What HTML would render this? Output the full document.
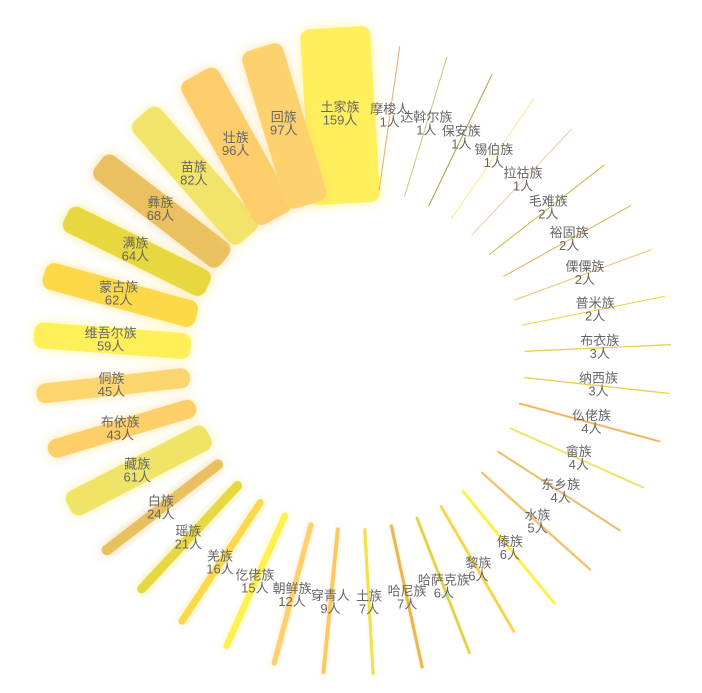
<!DOCTYPE html>
<html><head><meta charset="utf-8">
<style>
html,body{margin:0;padding:0;background:#fff;}
svg{display:block;}
text{font-family:"Liberation Sans","Noto Sans CJK SC",sans-serif;font-size:13px;fill:#666;}
</style></head>
<body>
<svg id="chart" width="702" height="693" viewBox="0 0 702 693">
<defs>
<filter id="glow" x="-50%" y="-50%" width="200%" height="200%">
<feGaussianBlur in="SourceGraphic" stdDeviation="6" result="b"/>
<feComponentTransfer in="b" result="bb"><feFuncA type="linear" slope="0.55"/></feComponentTransfer>
<feMerge><feMergeNode in="bb"/><feMergeNode in="SourceGraphic"/></feMerge>
</filter>
</defs>
<g id="bars"></g>
<g id="labels"></g>
</svg>
<script>
const categories = ["土家族","摩梭人","达斡尔族","保安族","锡伯族","拉祜族","毛难族","裕固族","傈僳族","普米族","布衣族","纳西族","仫佬族","畲族","东乡族","水族","傣族","黎族","哈萨克族","哈尼族","土族","穿青人","朝鲜族","仡佬族","羌族","瑶族","白族","藏族","布依族","侗族","维吾尔族","蒙古族","满族","彝族","苗族","壮族","回族"];
const values = [159,1,1,1,1,1,2,2,2,2,3,3,4,4,4,5,6,6,6,7,7,9,12,15,16,21,24,61,43,45,59,62,64,68,82,96,97];
const colors = ["#ffef5c","#f0a868","#c0d080","#b0a040","#f8e890","#e8d0a0","#c8b840","#e0b050","#f0c070","#f0d040","#e8d050","#e8d050","#f0b050","#f0e060","#e8b860","#f0c070","#fff040","#fcd040","#e0d040","#e8b850","#f0e050","#fcc860","#fcd070","#fff050","#fdd84a","#e6d840","#e8c060","#f0e468","#fccf68","#fcd56e","#fff05a","#fdd84a","#e8d840","#ebc060","#f2e46a","#fccd6a","#fcd16e"];

const cx = 355, cy = 359, rLabel = 245;
const startAngle = -3.5, baseStep = 8.75, stepK = 0.0181;
function widthOf(v){ return Math.max(1, 0.44*v); }
function innerR(v){ return 170 - 0.09*v; }
function outerR(v){ return 316 + 0.1*v; }
const angles = [];
values.forEach((v,i)=>{
  if(i===0) angles.push(startAngle);
  else angles.push(angles[i-1] + baseStep + stepK*(values[i-1]+v));
});
function pos(r, a){ const t=a*Math.PI/180; return [cx + r*Math.sin(t), cy - r*Math.cos(t)]; }

const NS="http://www.w3.org/2000/svg";
const gBars=document.getElementById('bars'), gLab=document.getElementById('labels');
values.forEach((v,i)=>{
  const w = widthOf(v), a = angles[i], r1 = innerR(v), r2 = outerR(v);
  const rect=document.createElementNS(NS,'rect');
  rect.setAttribute('x', cx - w/2);
  rect.setAttribute('y', cy - r2);
  rect.setAttribute('width', w);
  rect.setAttribute('height', r2 - r1);
  const rr = Math.min(w/2, 9);
  rect.setAttribute('rx', rr); rect.setAttribute('ry', rr);
  rect.setAttribute('fill', colors[i]);
  rect.setAttribute('transform', `rotate(${a} ${cx} ${cy})`);
  if (v > 3) rect.setAttribute('filter','url(#glow)');
  
  
  gBars.appendChild(rect);

  const [lx,ly]=pos(rLabel,a);
  const t=document.createElementNS(NS,'text');
  t.setAttribute('x',lx); t.setAttribute('y',ly-3);
  t.setAttribute('text-anchor','middle');
  
  
  const s1=document.createElementNS(NS,'tspan');
  s1.setAttribute('x',lx); s1.textContent=categories[i];
  const s2=document.createElementNS(NS,'tspan');
  s2.setAttribute('x',lx); s2.setAttribute('dy','13'); s2.textContent=v+'人';
  t.appendChild(s1); t.appendChild(s2);
  gLab.appendChild(t);
});
</script>
</body></html>
